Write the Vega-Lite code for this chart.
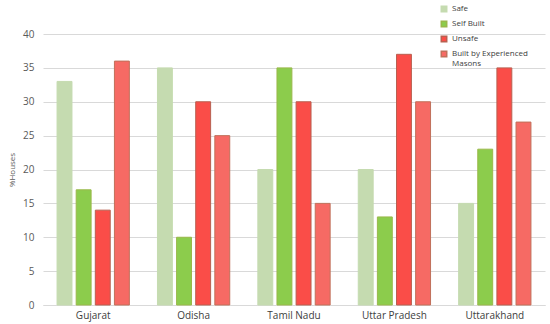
{
  "$schema": "https://vega.github.io/schema/vega-lite/v6.json",
  "autosize": "none",
  "width": 502,
  "height": 271,
  "padding": {"left": 43, "top": 34, "right": 5, "bottom": 19},
  "background": "white",
  "config": {
    "font": "Open Sans",
    "view": {"stroke": null}
  },
  "data": {
    "values": [
      {"state": "Gujarat", "type": "Safe", "value": 33},
      {"state": "Gujarat", "type": "Self Built", "value": 17},
      {"state": "Gujarat", "type": "Unsafe", "value": 14},
      {"state": "Gujarat", "type": "Built by Experienced Masons", "value": 36},
      {"state": "Odisha", "type": "Safe", "value": 35},
      {"state": "Odisha", "type": "Self Built", "value": 10},
      {"state": "Odisha", "type": "Unsafe", "value": 30},
      {"state": "Odisha", "type": "Built by Experienced Masons", "value": 25},
      {"state": "Tamil Nadu", "type": "Safe", "value": 20},
      {"state": "Tamil Nadu", "type": "Self Built", "value": 35},
      {"state": "Tamil Nadu", "type": "Unsafe", "value": 30},
      {"state": "Tamil Nadu", "type": "Built by Experienced Masons", "value": 15},
      {"state": "Uttar Pradesh", "type": "Safe", "value": 20},
      {"state": "Uttar Pradesh", "type": "Self Built", "value": 13},
      {"state": "Uttar Pradesh", "type": "Unsafe", "value": 37},
      {"state": "Uttar Pradesh", "type": "Built by Experienced Masons", "value": 30},
      {"state": "Uttarakhand", "type": "Safe", "value": 15},
      {"state": "Uttarakhand", "type": "Self Built", "value": 23},
      {"state": "Uttarakhand", "type": "Unsafe", "value": 35},
      {"state": "Uttarakhand", "type": "Built by Experienced Masons", "value": 27}
    ]
  },
  "mark": {"type": "bar", "strokeWidth": 1},
  "encoding": {
    "x": {
      "field": "state",
      "type": "nominal",
      "sort": null,
      "scale": {"paddingInner": 0.28, "paddingOuter": 0.14},
      "axis": {
        "title": null,
        "labelAngle": 0,
        "ticks": false,
        "domain": true,
        "domainColor": "#d9d9d9",
        "labelColor": "#404040",
        "labelFontSize": 10,
        "labelPadding": 5
      }
    },
    "xOffset": {
      "field": "type",
      "type": "nominal",
      "sort": ["Safe", "Self Built", "Unsafe", "Built by Experienced Masons"],
      "scale": {"paddingInner": 0.22, "paddingOuter": 0}
    },
    "y": {
      "field": "value",
      "type": "quantitative",
      "scale": {"domain": [0, 40]},
      "axis": {
        "title": "%Houses",
        "titleFontSize": 8,
        "titleFontWeight": "normal",
        "titleColor": "#595959",
        "titlePadding": 6,
        "values": [0, 5, 10, 15, 20, 25, 30, 35, 40],
        "ticks": false,
        "domain": false,
        "gridColor": "#d9d9d9",
        "labelColor": "#595959",
        "labelFontSize": 10,
        "labelPadding": 9
      }
    },
    "color": {
      "field": "type",
      "type": "nominal",
      "sort": ["Safe", "Self Built", "Unsafe", "Built by Experienced Masons"],
      "scale": {
        "domain": ["Safe", "Self Built", "Unsafe", "Built by Experienced Masons"],
        "range": ["#c5dbb0", "#8ccc4c", "#fa4d48", "#f66a64"]
      },
      "legend": {
        "title": null,
        "orient": "none",
        "legendX": 397,
        "legendY": -29,
        "symbolType": "square",
        "symbolSize": 30,
        "labelFontSize": 8,
        "labelColor": "#404040",
        "rowPadding": 3,
        "labelExpr": "datum.label == 'Built by Experienced Masons' ? ['Built by Experienced', 'Masons'] : datum.label"
      }
    },
    "stroke": {
      "field": "type",
      "type": "nominal",
      "scale": {
        "domain": ["Safe", "Self Built", "Unsafe", "Built by Experienced Masons"],
        "range": ["#c5dbb0", "#9ab84a", "#b86050", "#c0705a"]
      },
      "legend": null
    }
  }
}
